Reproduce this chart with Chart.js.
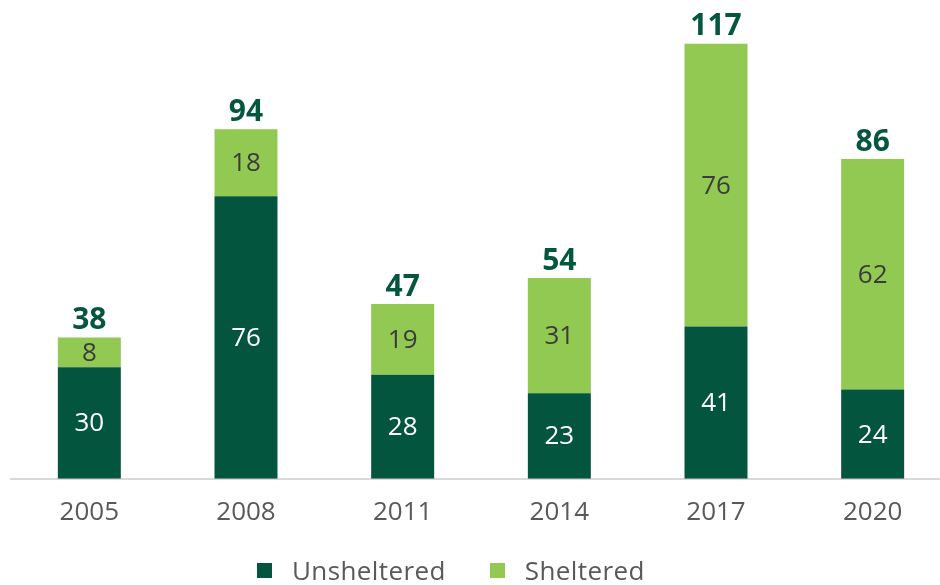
<!DOCTYPE html>
<html>
<head>
<meta charset="utf-8">
<script src="https://cdn.jsdelivr.net/npm/chart.js@4"></script>
<style>
  body { margin: 0; background: #fff; }
  .wrap { position: relative; width: 940px; height: 585px; overflow: hidden; }
  .legend {
    position: absolute; left: 257px; top: 557px;
    display: flex; align-items: center;
    font-family: "Open Sans", sans-serif; font-size: 26px; line-height: 26px;
    letter-spacing: 0.4px; color: #595959;
  }
  .legend .item { display: flex; align-items: center; margin-right: 44px; }
  .legend .box { width: 15px; height: 15px; margin-right: 20px; }
</style>
</head>
<body>
<div class="wrap">
  <canvas id="myChart" width="951" height="585"></canvas>
  <div class="legend" id="legend"></div>
</div>
<script>
const years = ['2005', '2008', '2011', '2014', '2017', '2020'];
const unsheltered = [30, 76, 28, 23, 41, 24];
const sheltered = [8, 18, 19, 31, 76, 62];

const darkGreen = '#04553D';
const lightGreen = '#92C953';

const totals = years.map((y, i) => unsheltered[i] + sheltered[i]);

// numbers inside each segment plus the bold total on top of each stack
const barLabels = {
  id: 'barLabels',
  afterDatasetsDraw(chart) {
    const ctx = chart.ctx;
    ctx.save();
    ctx.textAlign = 'center';
    chart.data.datasets.forEach((ds, di) => {
      const meta = chart.getDatasetMeta(di);
      meta.data.forEach((bar, i) => {
        ctx.font = '26px "Open Sans"';
        ctx.textBaseline = 'middle';
        ctx.fillStyle = di == 0 ? '#ffffff' : '#3b3b3b';
        ctx.fillText(ds.data[i], bar.x, (bar.y + bar.base) / 2 + 1);
      });
    });
    const top = chart.getDatasetMeta(chart.data.datasets.length - 1);
    top.data.forEach((bar, i) => {
      ctx.font = 'bold 30px "Open Sans"';
      ctx.textBaseline = 'alphabetic';
      ctx.fillStyle = '#04573E';
      ctx.fillText(totals[i], bar.x, bar.y - 8.5);
    });
    ctx.restore();
  }
};

const ctx = document.getElementById('myChart').getContext('2d');
const myChart = new Chart(ctx, {
  type: 'bar',
  data: {
    labels: years,
    datasets: [{
      label: 'Unsheltered',
      data: unsheltered,
      backgroundColor: darkGreen
    }, {
      label: 'Sheltered',
      data: sheltered,
      backgroundColor: lightGreen
    }]
  },
  options: {
    responsive: false,
    animation: false,
    layout: { padding: { left: 11, right: 0, top: 0, bottom: 39 } },
    datasets: { bar: { categoryPercentage: 1, barPercentage: 0.402 } },
    plugins: { legend: { display: false }, tooltip: { enabled: false } },
    scales: {
      x: {
        stacked: true,
        grid: { display: false, drawTicks: false },
        border: { display: true, color: '#d9d9d9', width: 2 },
        ticks: { color: '#595959', padding: 18, font: { family: 'Open Sans', size: 26 } }
      },
      y: {
        stacked: true,
        display: false,
        min: 0,
        max: 128.8
      }
    }
  },
  plugins: [barLabels]
});

// html legend under the plot
const legend = document.getElementById('legend');
myChart.data.datasets.forEach((ds) => {
  legend.innerHTML += `<div class="item"><span class="box" style="background:${ds.backgroundColor}"></span><span>${ds.label}</span></div>`;
});
</script>
</body>
</html>
